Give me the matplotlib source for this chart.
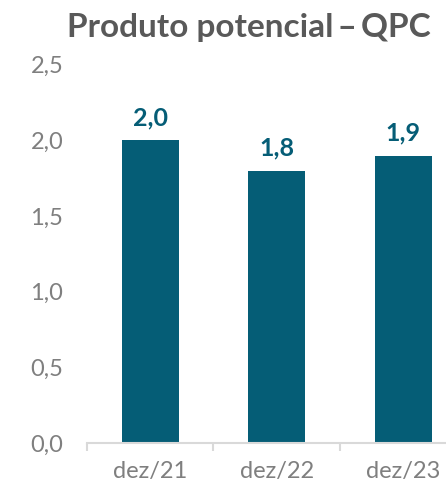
import matplotlib.pyplot as plt
from matplotlib.ticker import FixedLocator, FuncFormatter

# Potential output growth estimates
periods = ['dez/21', 'dez/22', 'dez/23']
values = [2.0, 1.8, 1.9]
labels = ['2,0', '1,8', '1,9']

bar_color = '#055D76'
plt.rcParams['font.family'] = ['Lato', 'DejaVu Sans']

fig = plt.figure(figsize=(4.46, 4.91), dpi=100)
ax = fig.add_axes([0.195, 0.098, 0.851, 0.770])

x = range(len(periods))
bars = ax.bar(x, values, width=0.45, color=bar_color, zorder=2)

for b, txt in zip(bars, labels):
    ax.annotate(txt, (b.get_x() + b.get_width() / 2, b.get_height()),
                xytext=(0, 8), textcoords='offset points',
                ha='center', va='bottom', fontsize=18, fontweight='bold',
                color=bar_color)

ax.set_xlim(-0.5, 2.5)
ax.set_ylim(0, 2.5)
ax.set_yticks([0, 0.5, 1.0, 1.5, 2.0, 2.5])
ax.yaxis.set_major_formatter(FuncFormatter(lambda v, p: f'{v:.1f}'.replace('.', ',')))
ax.set_xticks(list(x))
ax.set_xticklabels(periods)
ax.xaxis.set_minor_locator(FixedLocator([-0.5, 0.5, 1.5, 2.5]))

for s in ['top', 'right', 'left']:
    ax.spines[s].set_visible(False)
ax.spines['bottom'].set_color('#D9D9D9')
ax.spines['bottom'].set_linewidth(1.5)

ax.tick_params(axis='y', length=0, pad=17, labelsize=17, labelcolor='#7F7F7F')
ax.tick_params(axis='x', which='major', length=0, pad=13, labelsize=17, labelcolor='#7F7F7F')
ax.tick_params(axis='x', which='minor', length=6, width=1.5, color='#D9D9D9')

fig.text(0.558, 0.943, 'Produto potencial\u2009\u2013\u2009QPC', ha='center', va='center',
         fontsize=24, fontweight='bold', color='#595959')

fig.savefig('out.png', dpi=100)
